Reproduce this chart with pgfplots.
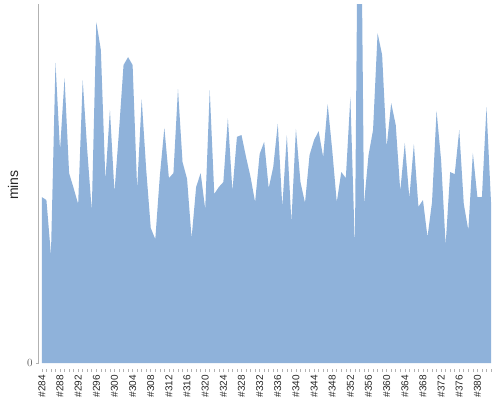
\documentclass[border=0pt]{standalone}
\usepackage{pgfplots}
\pgfplotsset{compat=1.18}
\usepackage{pgfplotstable}
\usepackage{fontspec}
\setmainfont{Liberation Sans}

\definecolor{areablue}{RGB}{143,178,218}
\definecolor{axgray}{RGB}{178,178,178}
\definecolor{lblgray}{RGB}{96,96,96}

% build number, minutes
\pgfplotstableread{
n v
284 46.2
285 45.4
286 30.1
287 83.6
288 59.3
289 79.4
290 52.9
291 48.7
292 44.3
293 78.8
294 59.3
295 42.3
296 95.0
297 87.2
298 51.0
299 70.5
300 47.6
301 64.6
302 83.0
303 85.2
304 83.0
305 48.5
306 73.5
307 53.8
308 37.6
309 34.5
310 52.1
311 65.5
312 51.5
313 52.9
314 76.3
315 56.0
316 51.3
317 34.8
318 49.0
319 52.9
320 42.9
321 76.0
322 47.1
323 49.0
324 50.4
325 68.2
326 47.9
327 63.0
328 63.5
329 57.4
330 51.8
331 44.8
332 58.2
333 61.6
334 48.7
335 54.6
336 66.6
337 43.5
338 63.5
339 39.3
340 65.2
341 50.4
342 44.6
343 57.9
344 62.1
345 64.6
346 57.4
347 72.1
348 59.3
349 44.8
350 53.2
351 51.5
352 74.1
353 32.0
354 180.0
355 44.3
356 57.9
357 64.9
358 91.9
359 85.8
360 60.2
361 72.4
362 66.3
363 47.9
364 61.3
365 46.0
366 61.0
367 43.5
368 45.4
369 35.1
370 44.8
371 70.2
372 56.5
373 32.9
374 53.2
375 52.6
376 64.9
377 44.3
378 37.0
379 58.5
380 46.2
381 46.2
382 71.3
383 44.8
}\durations

\begin{document}
\begin{tikzpicture}
\path[use as bounding box] (0pt,0pt) rectangle (500pt,400pt);
\begin{axis}[
    at={(38.7pt,31pt)}, anchor=south west,
    scale only axis,
    width=452.3pt, height=365pt,
    xmin=283.3, xmax=383,
    ymin=-1.67, ymax=100,
    clip mode=individual,
    axis lines*=left,
    axis line style={draw=none},
    tick align=outside,
    xtick={284,288,...,380},
    xticklabels={\#284,\#288,\#292,\#296,\#300,\#304,\#308,\#312,\#316,\#320,\#324,\#328,\#332,\#336,\#340,\#344,\#348,\#352,\#356,\#360,\#364,\#368,\#372,\#376,\#380},
    minor xtick={284,...,383},
    major tick length=2.5pt,
    minor tick length=2.5pt,
    x tick style={axgray, line width=0.6pt},
    xticklabel style={rotate=90, anchor=east, font=\fontsize{10}{12}\selectfont, text=black!85},
    ytick={0},
    y tick style={axgray, line width=0.8pt},
    yticklabel style={font=\fontsize{11}{12}\selectfont, text=lblgray},
    ylabel={mins},
    every axis y label/.style={at={(axis description cs:0,0.5)}, xshift=-25.7pt, yshift=1.5pt, rotate=90, anchor=center},
    ylabel style={font=\fontsize{14}{16}\selectfont, text=black!85},
]
\addplot[fill=areablue, draw=none] table[x=n, y=v] {\durations} \closedcycle;
\draw[axgray, line width=0.8pt] (axis cs:283.3,0) -- (axis cs:283.3,100);
\end{axis}
\end{tikzpicture}
\end{document}
